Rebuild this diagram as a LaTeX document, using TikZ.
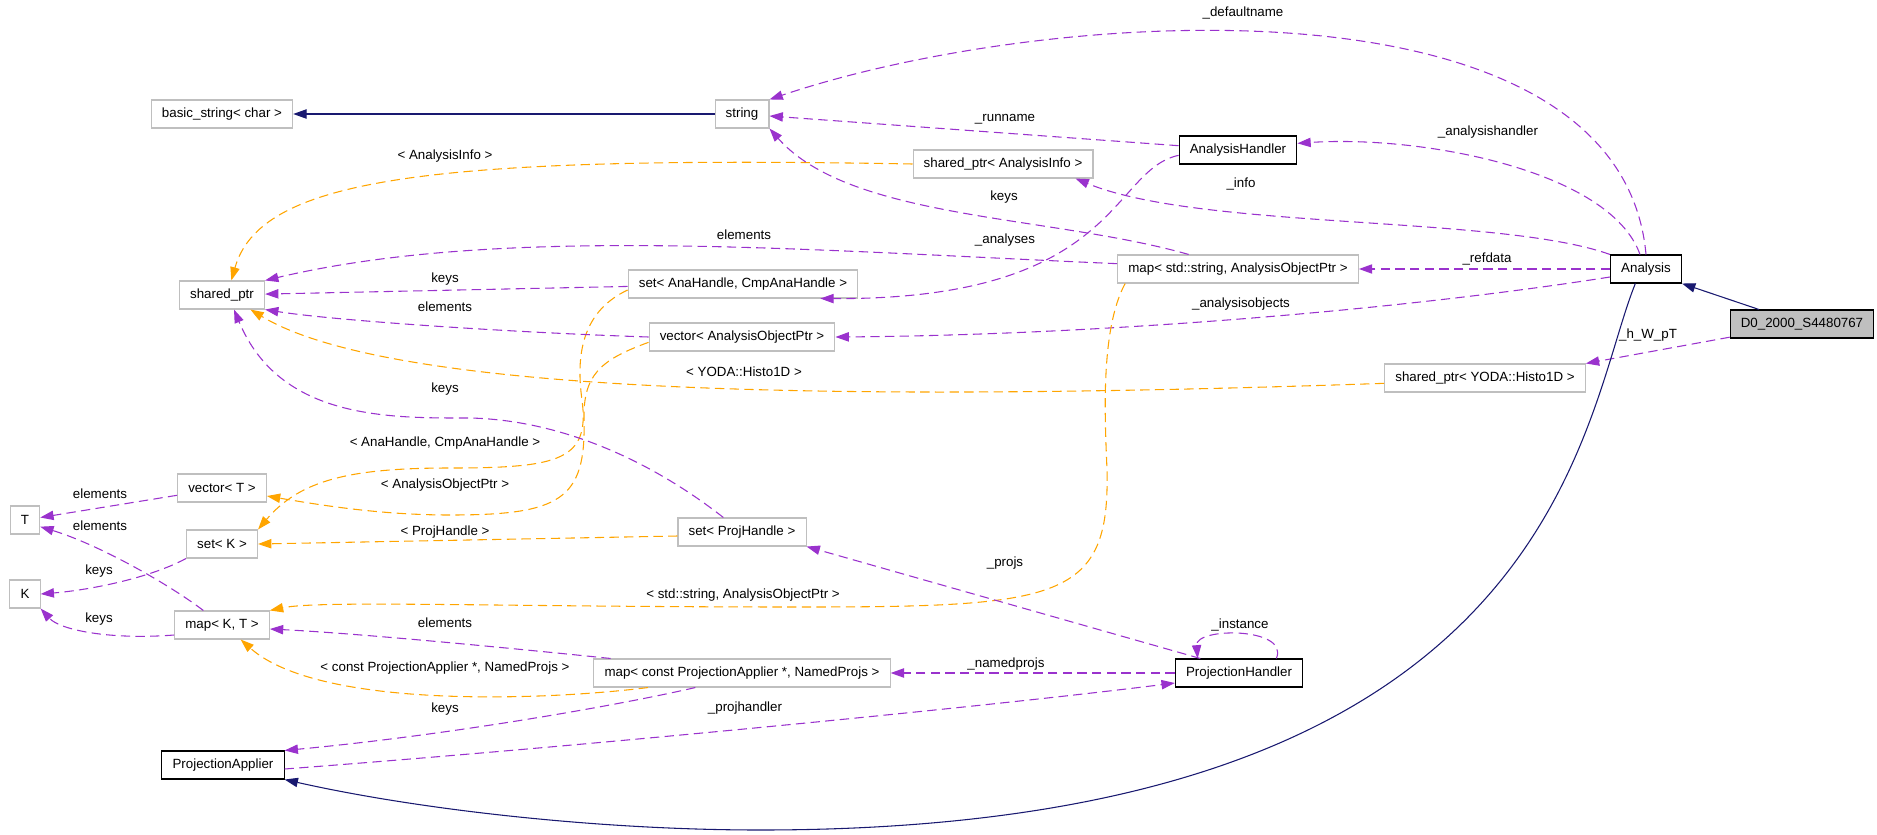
\documentclass[tikz,border=0pt]{standalone}
\usepackage{fontspec}
\setmainfont{Liberation Sans}
\usetikzlibrary{arrows.meta}
\definecolor{usecol}{HTML}{9A32CD}
\definecolor{tplcol}{HTML}{FFA500}
\definecolor{inhcol}{HTML}{191970}
\definecolor{boxgray}{HTML}{BFBFBF}

\begin{document}
\begin{tikzpicture}[x=0.75pt, y=-0.75pt, font=\fontsize{10}{12}\selectfont,
	box/.style={line width=0.8pt, minimum height=21pt, inner xsep=8pt, inner ysep=0pt},
	cls/.style={box, draw=black},
	ext/.style={box, draw=boxgray},
	cur/.style={box, draw=black, fill=boxgray},
	lbl/.style={inner sep=0pt},
	tip/.style={-{Triangle[length=10pt,width=7pt]}},
	uses/.style={tip, draw=usecol, line width=0.8pt, dash pattern=on 7pt off 4pt},
	tmpl/.style={tip, draw=tplcol, line width=0.8pt, dash pattern=on 7pt off 4pt},
	inh/.style={tip, draw=inhcol, line width=0.8pt}]
	\useasboundingbox (0,0) rectangle (1877,835);
	\node[ext] (bstr) at (222,114) {basic\_string< char >};
	\node[ext] (str) at (742,114) {string};
	\node[cls] (ah) at (1238,150) {AnalysisHandler};
	\node[ext] (spai) at (1003,164) {shared\_ptr< AnalysisInfo >};
	\node[ext] (sp) at (222,295) {shared\_ptr};
	\node[ext] (setana) at (743,284) {set< AnaHandle, CmpAnaHandle >};
	\node[ext] (mapstr) at (1238,269) {map< std::string, AnalysisObjectPtr >};
	\node[cls] (analysis) at (1646,269) {Analysis};
	\node[cur] (d0) at (1802,324) {D0\_2000\_S4480767};
	\node[ext] (vecaop) at (742,337) {vector< AnalysisObjectPtr >};
	\node[ext] (histo) at (1485,378) {shared\_ptr< YODA::Histo1D >};
	\node[ext] (vect) at (222,488) {vector< T >};
	\node[ext] (tt) at (25,520) {T};
	\node[ext] (setk) at (222,544) {set< K >};
	\node[ext] (setph) at (742,532) {set< ProjHandle >};
	\node[ext] (kk) at (25,594) {K};
	\node[ext] (mapkt) at (222,625) {map< K, T >};
	\node[ext] (mappa) at (742,673) {map< const ProjectionApplier *, NamedProjs >};
	\node[cls] (ph) at (1239,673) {ProjectionHandler};
	\node[cls] (pa) at (223,765) {ProjectionApplier};

	\draw[inh] (d0) -- (analysis.south east);
	\draw[uses] (d0) -- (histo.north east);
	\draw[uses] (analysis.north) .. controls (1620,-30) and (1050,5) .. (str.north east);
	\draw[uses] ([xshift=-4.5pt]analysis.north) .. controls (1610,170) and (1420,135) .. ([yshift=5pt]ah.east);
	\draw[uses] (analysis.north west) .. controls (1500,215) and (1200,230) .. ([xshift=-13.5pt]spai.south east);
	\draw[uses] (analysis) -- (mapstr);
	\draw[uses] ([yshift=-6pt]analysis.west) .. controls (1400,310) and (1100,335) .. (vecaop.east);
	\draw[inh] ([xshift=-8pt]analysis.south) .. controls (1580,420) and (1560,830) .. (760,830) .. controls (600,830) and (420,810) .. (pa.south east);
	\draw[inh] (str) -- (bstr);
	\draw[uses] (ah) -- (str);
	\draw[uses] ([yshift=-4pt]ah.west) .. controls (1110,170) and (1120,300) .. ([xshift=-28.5pt]setana.south east);
	\draw[tmpl] (spai.west) .. controls (420,155) and (260,180) .. ([xshift=7pt]sp.north);
	\draw[uses] ([xshift=-37pt]mapstr.north) .. controls (1050,215) and (850,220) .. (str.south east);
	\draw[uses] ([yshift=4pt]mapstr.west) .. controls (800,250) and (500,225) .. (sp.north east);
	\draw[tmpl] ([xshift=6pt]mapstr.south west) .. controls (1100,330) and (1105,420) .. (1107,470) .. controls (1110,600) and (1060,607) .. (800,607) .. controls (500,607) and (320,600) .. (mapkt.north east);
	\draw[uses] (setana) -- (sp);
	\draw[tmpl] ([yshift=-4.5pt]setana.west) .. controls (585,310) and (575,350) .. (582,400) .. controls (590,460) and (560,468) .. (450,468) .. controls (350,468) and (300,480) .. (setk.north east);
	\draw[uses] (vecaop.west) .. controls (500,332) and (330,320) .. (sp.south east);
	\draw[tmpl] ([yshift=-4pt]vecaop.west) .. controls (600,360) and (583,375) .. (584,420) .. controls (586,500) and (560,515) .. (450,515) .. controls (380,515) and (320,505) .. ([yshift=-6pt]vect.east);
	\draw[tmpl] ([yshift=-4pt]histo.west) .. controls (900,400) and (400,400) .. ([xshift=-11pt]sp.south east);
	\draw[uses] ([xshift=-14pt]setph.north) .. controls (650,460) and (560,420) .. (470,418) .. controls (390,418) and (280,420) .. ([xshift=9pt]sp.south);
	\draw[tmpl] ([yshift=-3pt]setph.west) -- (setk.east);
	\draw[uses] (vect) -- (tt);
	\draw[uses] (setk.south west) .. controls (150,578) and (90,590) .. (kk.east);
	\draw[uses] ([xshift=-14pt]mapkt.north) .. controls (170,585) and (100,545) .. ([yshift=-5pt]tt.east);
	\draw[uses] ([yshift=-7.5pt]mapkt.west) .. controls (110,640) and (60,630) .. (kk.south east);
	\draw[uses] ([xshift=13pt]mappa.north west) .. controls (480,645) and (350,633) .. ([yshift=-3pt]mapkt.east);
	\draw[tmpl] ([xshift=41pt]mappa.south west) .. controls (550,700) and (320,710) .. ([xshift=14pt]mapkt.south);
	\draw[uses] ([xshift=-35pt]mappa.south) .. controls (620,705) and (450,735) .. (pa.north east);
	\draw[uses] ([xshift=-29pt]ph.north) -- (setph.south east);
	\draw[uses] (ph) -- (mappa);
	\draw[uses] ([xshift=28pt]ph.north) .. controls (1290,627) and (1195,627) .. ([xshift=-31pt]ph.north);
	\draw[uses] ([yshift=-3pt]pa.east) .. controls (600,745) and (1000,705) .. ([yshift=-7.5pt]ph.west);

	\node[lbl] (ldefault) at (1243,13) {\_defaultname};
	\node[lbl] (lrun) at (1005,119) {\_runname};
	\node[lbl] (lahandler) at (1488,132) {\_analysishandler};
	\node[lbl] (lainfo) at (445,156) {< AnalysisInfo >};
	\node[lbl] (linfo) at (1241,184) {\_info};
	\node[lbl] (lkeysstr) at (1004,197) {keys};
	\node[lbl] (lelemstr) at (744,235) {elements};
	\node[lbl] (lanalyses) at (1005,240) {\_analyses};
	\node[lbl] (lrefdata) at (1487,259) {\_refdata};
	\node[lbl] (lkeysana) at (445,279) {keys};
	\node[lbl] (laobjects) at (1241,304) {\_analysisobjects};
	\node[lbl] (lelemaop) at (445,307) {elements};
	\node[lbl] (lhwpt) at (1648,335) {\_h\_W\_pT};
	\node[lbl] (lyoda) at (744,372) {< YODA::Histo1D >};
	\node[lbl] (lkeysph) at (445,389) {keys};
	\node[lbl] (lanah) at (445,443) {< AnaHandle, CmpAnaHandle >};
	\node[lbl] (laop) at (445,485) {< AnalysisObjectPtr >};
	\node[lbl] (lelemvt) at (100,494) {elements};
	\node[lbl] (lelemkt) at (100,526) {elements};
	\node[lbl] (lprojh) at (445,532) {< ProjHandle >};
	\node[lbl] (lprojs) at (1005,563) {\_projs};
	\node[lbl] (lkeysk) at (99,571) {keys};
	\node[lbl] (lstraop) at (743,595) {< std::string, AnalysisObjectPtr >};
	\node[lbl] (lkeyskt) at (99,619) {keys};
	\node[lbl] (lelempa) at (445,623) {elements};
	\node[lbl] (linstance) at (1240,625) {\_instance};
	\node[lbl] (lnamed) at (1006,664) {\_namedprojs};
	\node[lbl] (lcpa) at (445,668) {< const ProjectionApplier *, NamedProjs >};
	\node[lbl] (lprojhandler) at (745,708) {\_projhandler};
	\node[lbl] (lkeyspa) at (445,709) {keys};
\end{tikzpicture}
\end{document}
